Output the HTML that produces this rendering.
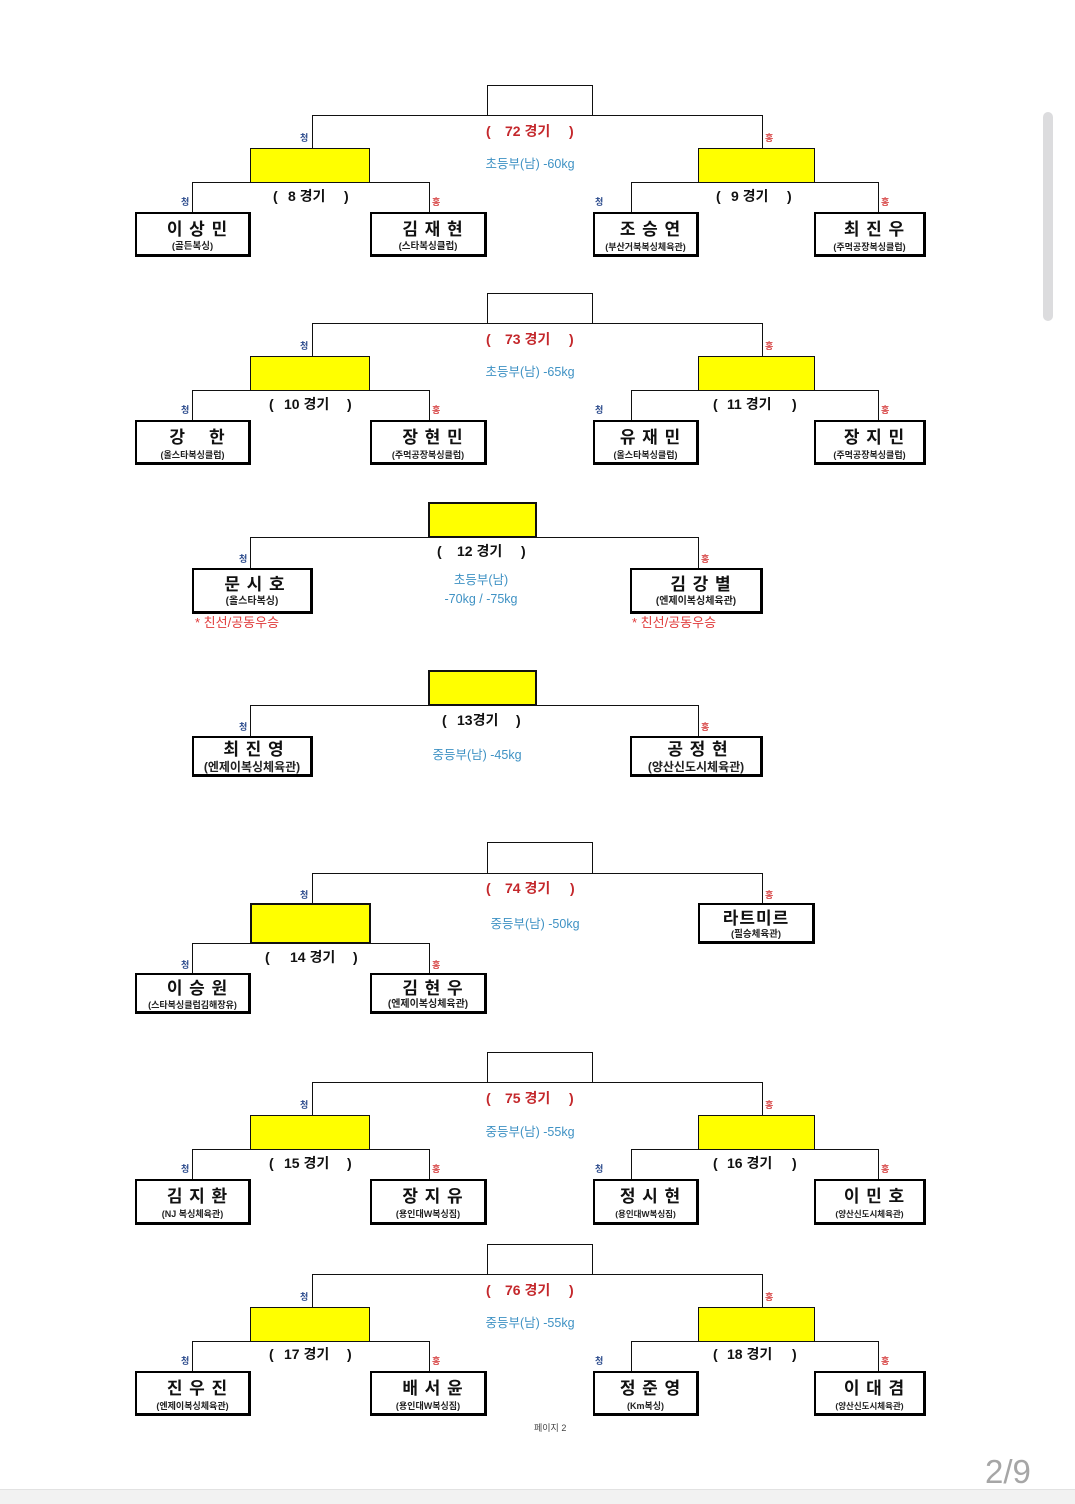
<!DOCTYPE html>
<html><head><meta charset="utf-8">
<style>
html,body{margin:0;padding:0;background:#fff;}
body{width:1075px;height:1503px;position:relative;overflow:hidden;font-family:"Liberation Sans","Noto Sans CJK KR",sans-serif;}
.h{position:absolute;height:1px;background:#111;}
.v{position:absolute;width:1px;background:#111;}
.tb{position:absolute;box-sizing:border-box;border:1px solid #111;background:#fff;}
.yb{position:absolute;box-sizing:border-box;border:1px solid #111;background:#ffff00;}
.yb2{position:absolute;box-sizing:border-box;border:2px solid #111;background:#ffff00;}
.nb{position:absolute;box-sizing:border-box;border:2px solid #000;border-right-width:3px;border-bottom-width:3px;background:#fff;text-align:center;}
.nm{position:absolute;left:0;right:0;top:6px;padding-left:10px;font-weight:bold;font-size:17px;line-height:20px;color:#111;white-space:nowrap;letter-spacing:1px;}
.sb{position:absolute;left:0;right:0;top:27px;font-weight:bold;font-size:9.5px;line-height:12px;color:#222;white-space:nowrap;}
.t{position:absolute;white-space:nowrap;line-height:1;}
.c{position:absolute;font-size:9px;line-height:1;color:#2b4a8c;font-weight:bold;}
.r{position:absolute;font-size:9px;line-height:1;color:#d84848;font-weight:bold;}
.red{color:#c4282c;font-weight:bold;font-size:14px;}
.blk{color:#111;font-weight:bold;font-size:14px;}
.blue{color:#3f92c4;font-size:12.5px;text-align:center;}
.fr{color:#e03a3a;font-size:13px;}
</style></head><body>

<!-- ============ SECTION 72 (d=0) ============ -->
<div class="tb" style="left:487px;top:85px;width:106px;height:31px"></div>
<div class="h" style="left:312px;top:115px;width:451px"></div>
<div class="v" style="left:312px;top:115px;height:33px"></div>
<div class="v" style="left:762px;top:115px;height:33px"></div>
<div class="c" style="left:300px;top:134px">청</div>
<div class="r" style="left:765px;top:134px">홍</div>
<div class="yb" style="left:250px;top:148px;width:120px;height:35px"></div>
<div class="yb" style="left:698px;top:148px;width:117px;height:35px"></div>
<div class="h" style="left:192px;top:182px;width:237px"></div>
<div class="h" style="left:631px;top:182px;width:248px"></div>
<div class="v" style="left:192px;top:182px;height:30px"></div>
<div class="v" style="left:429px;top:182px;height:30px"></div>
<div class="v" style="left:631px;top:182px;height:30px"></div>
<div class="v" style="left:878px;top:182px;height:30px"></div>
<div class="c" style="left:181px;top:198px">청</div>
<div class="r" style="left:432px;top:198px">홍</div>
<div class="c" style="left:595px;top:198px">청</div>
<div class="r" style="left:881px;top:198px">홍</div>
<div class="t red" style="left:486px;top:124px">(</div>
<div class="t red" style="left:505px;top:124px">72 경기</div>
<div class="t red" style="left:569px;top:124px">)</div>
<div class="t blue" style="left:470px;top:158px;width:120px">초등부(남) -60kg</div>
<div class="t blk" style="left:273px;top:189px">(</div>
<div class="t blk" style="left:288px;top:189px">8 경기</div>
<div class="t blk" style="left:344px;top:189px">)</div>
<div class="t blk" style="left:716px;top:189px">(</div>
<div class="t blk" style="left:731px;top:189px">9 경기</div>
<div class="t blk" style="left:787px;top:189px">)</div>
<div class="nb" style="left:135px;top:212px;width:116px;height:45px"><div class="nm">이 상 민</div><div class="sb">(골든복싱)</div></div>
<div class="nb" style="left:370px;top:212px;width:117px;height:45px"><div class="nm">김 재 현</div><div class="sb">(스타복싱클럽)</div></div>
<div class="nb" style="left:593px;top:212px;width:106px;height:45px"><div class="nm">조 승 연</div><div class="sb" style="font-size:9px">(부산거북복싱체육관)</div></div>
<div class="nb" style="left:814px;top:212px;width:112px;height:45px"><div class="nm">최 진 우</div><div class="sb" style="font-size:9px">(주먹공장복싱클럽)</div></div>

<!-- ============ SECTION 73 (d=208) ============ -->
<div class="tb" style="left:487px;top:293px;width:106px;height:31px"></div>
<div class="h" style="left:312px;top:323px;width:451px"></div>
<div class="v" style="left:312px;top:323px;height:33px"></div>
<div class="v" style="left:762px;top:323px;height:33px"></div>
<div class="c" style="left:300px;top:342px">청</div>
<div class="r" style="left:765px;top:342px">홍</div>
<div class="yb" style="left:250px;top:356px;width:120px;height:35px"></div>
<div class="yb" style="left:698px;top:356px;width:117px;height:35px"></div>
<div class="h" style="left:192px;top:390px;width:237px"></div>
<div class="h" style="left:631px;top:390px;width:248px"></div>
<div class="v" style="left:192px;top:390px;height:30px"></div>
<div class="v" style="left:429px;top:390px;height:30px"></div>
<div class="v" style="left:631px;top:390px;height:30px"></div>
<div class="v" style="left:878px;top:390px;height:30px"></div>
<div class="c" style="left:181px;top:406px">청</div>
<div class="r" style="left:432px;top:406px">홍</div>
<div class="c" style="left:595px;top:406px">청</div>
<div class="r" style="left:881px;top:406px">홍</div>
<div class="t red" style="left:486px;top:332px">(</div>
<div class="t red" style="left:505px;top:332px">73 경기</div>
<div class="t red" style="left:569px;top:332px">)</div>
<div class="t blue" style="left:470px;top:366px;width:120px">초등부(남) -65kg</div>
<div class="t blk" style="left:269px;top:397px">(</div>
<div class="t blk" style="left:284px;top:397px">10 경기</div>
<div class="t blk" style="left:347px;top:397px">)</div>
<div class="t blk" style="left:713px;top:397px">(</div>
<div class="t blk" style="left:727px;top:397px">11 경기</div>
<div class="t blk" style="left:792px;top:397px">)</div>
<div class="nb" style="left:135px;top:420px;width:116px;height:45px"><div class="nm">강&nbsp;&nbsp;&nbsp;&nbsp;한</div><div class="sb" style="font-size:9px">(올스타복싱클럽)</div></div>
<div class="nb" style="left:370px;top:420px;width:117px;height:45px"><div class="nm">장 현 민</div><div class="sb" style="font-size:9px">(주먹공장복싱클럽)</div></div>
<div class="nb" style="left:593px;top:420px;width:106px;height:45px"><div class="nm">유 재 민</div><div class="sb" style="font-size:9px">(올스타복싱클럽)</div></div>
<div class="nb" style="left:814px;top:420px;width:112px;height:45px"><div class="nm">장 지 민</div><div class="sb" style="font-size:9px">(주먹공장복싱클럽)</div></div>

<!-- ============ SECTION 12 ============ -->
<div class="yb2" style="left:428px;top:502px;width:109px;height:36px"></div>
<div class="h" style="left:250px;top:537px;width:449px"></div>
<div class="v" style="left:250px;top:537px;height:31px"></div>
<div class="v" style="left:698px;top:537px;height:31px"></div>
<div class="c" style="left:239px;top:555px">청</div>
<div class="r" style="left:701px;top:555px">홍</div>
<div class="t blk" style="left:437px;top:544px">(</div>
<div class="t blk" style="left:457px;top:544px">12 경기</div>
<div class="t blk" style="left:521px;top:544px">)</div>
<div class="t blue" style="left:421px;top:574px;width:120px">초등부(남)</div>
<div class="t blue" style="left:421px;top:593px;width:120px">-70kg / -75kg</div>
<div class="nb" style="left:192px;top:568px;width:121px;height:46px"><div class="nm" style="top:5px;padding-left:6px">문 시 호</div><div class="sb" style="top:26px;font-size:10px">(올스타복싱)</div></div>
<div class="nb" style="left:630px;top:568px;width:133px;height:46px"><div class="nm" style="top:5px">김 강 별</div><div class="sb" style="top:26px;font-size:10px">(엔제이복싱체육관)</div></div>
<div class="t fr" style="left:195px;top:616px">* 친선/공동우승</div>
<div class="t fr" style="left:632px;top:616px">* 친선/공동우승</div>

<!-- ============ SECTION 13 ============ -->
<div class="yb2" style="left:428px;top:670px;width:109px;height:36px"></div>
<div class="h" style="left:250px;top:705px;width:449px"></div>
<div class="v" style="left:250px;top:705px;height:31px"></div>
<div class="v" style="left:698px;top:705px;height:31px"></div>
<div class="c" style="left:239px;top:723px">청</div>
<div class="r" style="left:701px;top:723px">홍</div>
<div class="t blk" style="left:442px;top:713px">(</div>
<div class="t blk" style="left:457px;top:713px">13경기</div>
<div class="t blk" style="left:516px;top:713px">)</div>
<div class="t blue" style="left:417px;top:749px;width:120px">중등부(남) -45kg</div>
<div class="nb" style="left:192px;top:736px;width:121px;height:41px"><div class="nm" style="top:2px;padding-left:4px">최 진 영</div><div class="sb" style="top:22px;font-size:12px;line-height:14px">(엔제이복싱체육관)</div></div>
<div class="nb" style="left:630px;top:736px;width:133px;height:41px"><div class="nm" style="top:2px;padding-left:4px">공 정 현</div><div class="sb" style="top:22px;font-size:12px;line-height:14px">(양산신도시체육관)</div></div>

<!-- ============ SECTION 74 ============ -->
<div class="tb" style="left:487px;top:842px;width:106px;height:32px"></div>
<div class="h" style="left:312px;top:873px;width:451px"></div>
<div class="v" style="left:312px;top:873px;height:30px"></div>
<div class="v" style="left:762px;top:873px;height:30px"></div>
<div class="c" style="left:300px;top:891px">청</div>
<div class="r" style="left:765px;top:891px">홍</div>
<div class="yb2" style="left:250px;top:903px;width:121px;height:41px"></div>
<div class="h" style="left:192px;top:943px;width:237px"></div>
<div class="v" style="left:192px;top:943px;height:30px"></div>
<div class="v" style="left:429px;top:943px;height:30px"></div>
<div class="c" style="left:181px;top:961px">청</div>
<div class="r" style="left:432px;top:961px">홍</div>
<div class="t red" style="left:486px;top:881px">(</div>
<div class="t red" style="left:505px;top:881px">74 경기</div>
<div class="t red" style="left:570px;top:881px">)</div>
<div class="t blue" style="left:475px;top:918px;width:120px">중등부(남) -50kg</div>
<div class="t blk" style="left:265px;top:950px">(</div>
<div class="t blk" style="left:290px;top:950px">14 경기</div>
<div class="t blk" style="left:353px;top:950px">)</div>
<div class="nb" style="left:698px;top:903px;width:117px;height:41px"><div class="nm" style="top:4px;padding-left:0">라트미르</div><div class="sb" style="top:24px">(필승체육관)</div></div>
<div class="nb" style="left:135px;top:973px;width:116px;height:41px"><div class="nm" style="top:4px">이 승 원</div><div class="sb" style="top:24px;font-size:9px">(스타복싱클럽김해장유)</div></div>
<div class="nb" style="left:370px;top:973px;width:117px;height:41px"><div class="nm" style="top:4px">김 현 우</div><div class="sb" style="top:24px;font-size:10px">(엔제이복싱체육관)</div></div>

<!-- ============ SECTION 75 (d=967) ============ -->
<div class="tb" style="left:487px;top:1052px;width:106px;height:31px"></div>
<div class="h" style="left:312px;top:1082px;width:451px"></div>
<div class="v" style="left:312px;top:1082px;height:33px"></div>
<div class="v" style="left:762px;top:1082px;height:33px"></div>
<div class="c" style="left:300px;top:1101px">청</div>
<div class="r" style="left:765px;top:1101px">홍</div>
<div class="yb" style="left:250px;top:1115px;width:120px;height:35px"></div>
<div class="yb" style="left:698px;top:1115px;width:117px;height:35px"></div>
<div class="h" style="left:192px;top:1149px;width:237px"></div>
<div class="h" style="left:631px;top:1149px;width:248px"></div>
<div class="v" style="left:192px;top:1149px;height:30px"></div>
<div class="v" style="left:429px;top:1149px;height:30px"></div>
<div class="v" style="left:631px;top:1149px;height:30px"></div>
<div class="v" style="left:878px;top:1149px;height:30px"></div>
<div class="c" style="left:181px;top:1165px">청</div>
<div class="r" style="left:432px;top:1165px">홍</div>
<div class="c" style="left:595px;top:1165px">청</div>
<div class="r" style="left:881px;top:1165px">홍</div>
<div class="t red" style="left:486px;top:1091px">(</div>
<div class="t red" style="left:505px;top:1091px">75 경기</div>
<div class="t red" style="left:569px;top:1091px">)</div>
<div class="t blue" style="left:470px;top:1126px;width:120px">중등부(남) -55kg</div>
<div class="t blk" style="left:269px;top:1156px">(</div>
<div class="t blk" style="left:284px;top:1156px">15 경기</div>
<div class="t blk" style="left:347px;top:1156px">)</div>
<div class="t blk" style="left:713px;top:1156px">(</div>
<div class="t blk" style="left:727px;top:1156px">16 경기</div>
<div class="t blk" style="left:792px;top:1156px">)</div>
<div class="nb" style="left:135px;top:1179px;width:116px;height:46px"><div class="nm">김 지 환</div><div class="sb" style="font-size:9px">(NJ 복싱체육관)</div></div>
<div class="nb" style="left:370px;top:1179px;width:117px;height:46px"><div class="nm">장 지 유</div><div class="sb" style="font-size:9px">(용인대W복싱짐)</div></div>
<div class="nb" style="left:593px;top:1179px;width:106px;height:46px"><div class="nm">정 시 현</div><div class="sb" style="font-size:8.5px">(용인대W복싱짐)</div></div>
<div class="nb" style="left:814px;top:1179px;width:112px;height:46px"><div class="nm">이 민 호</div><div class="sb" style="font-size:8.5px">(양산신도시체육관)</div></div>

<!-- ============ SECTION 76 (d=1159) ============ -->
<div class="tb" style="left:487px;top:1244px;width:106px;height:31px"></div>
<div class="h" style="left:312px;top:1274px;width:451px"></div>
<div class="v" style="left:312px;top:1274px;height:33px"></div>
<div class="v" style="left:762px;top:1274px;height:33px"></div>
<div class="c" style="left:300px;top:1293px">청</div>
<div class="r" style="left:765px;top:1293px">홍</div>
<div class="yb" style="left:250px;top:1307px;width:120px;height:35px"></div>
<div class="yb" style="left:698px;top:1307px;width:117px;height:35px"></div>
<div class="h" style="left:192px;top:1341px;width:237px"></div>
<div class="h" style="left:631px;top:1341px;width:248px"></div>
<div class="v" style="left:192px;top:1341px;height:30px"></div>
<div class="v" style="left:429px;top:1341px;height:30px"></div>
<div class="v" style="left:631px;top:1341px;height:30px"></div>
<div class="v" style="left:878px;top:1341px;height:30px"></div>
<div class="c" style="left:181px;top:1357px">청</div>
<div class="r" style="left:432px;top:1357px">홍</div>
<div class="c" style="left:595px;top:1357px">청</div>
<div class="r" style="left:881px;top:1357px">홍</div>
<div class="t red" style="left:486px;top:1283px">(</div>
<div class="t red" style="left:505px;top:1283px">76 경기</div>
<div class="t red" style="left:569px;top:1283px">)</div>
<div class="t blue" style="left:470px;top:1317px;width:120px">중등부(남) -55kg</div>
<div class="t blk" style="left:269px;top:1347px">(</div>
<div class="t blk" style="left:284px;top:1347px">17 경기</div>
<div class="t blk" style="left:347px;top:1347px">)</div>
<div class="t blk" style="left:713px;top:1347px">(</div>
<div class="t blk" style="left:727px;top:1347px">18 경기</div>
<div class="t blk" style="left:792px;top:1347px">)</div>
<div class="nb" style="left:135px;top:1371px;width:116px;height:45px"><div class="nm">진 우 진</div><div class="sb" style="font-size:9px">(엔제이복싱체육관)</div></div>
<div class="nb" style="left:370px;top:1371px;width:117px;height:45px"><div class="nm">배 서 윤</div><div class="sb" style="font-size:9px">(용인대W복싱짐)</div></div>
<div class="nb" style="left:593px;top:1371px;width:106px;height:45px"><div class="nm">정 준 영</div><div class="sb" style="font-size:9px">(Km복싱)</div></div>
<div class="nb" style="left:814px;top:1371px;width:112px;height:45px"><div class="nm">이 대 겸</div><div class="sb" style="font-size:8.5px">(양산신도시체육관)</div></div>

<div class="t" style="left:534px;top:1424px;font-size:9px;color:#444">페이지 2</div>

<!-- viewer chrome -->
<div style="position:absolute;left:1043px;top:112px;width:10px;height:209px;border-radius:5px;background:#dcdcde"></div>
<div class="t" style="left:985px;top:1455px;font-size:33px;color:#a6a6a6">2/9</div>
<div style="position:absolute;left:0;top:1489px;width:1075px;height:14px;background:#f2f2f2;border-top:1px solid #e2e2e2"></div>
</body></html>
